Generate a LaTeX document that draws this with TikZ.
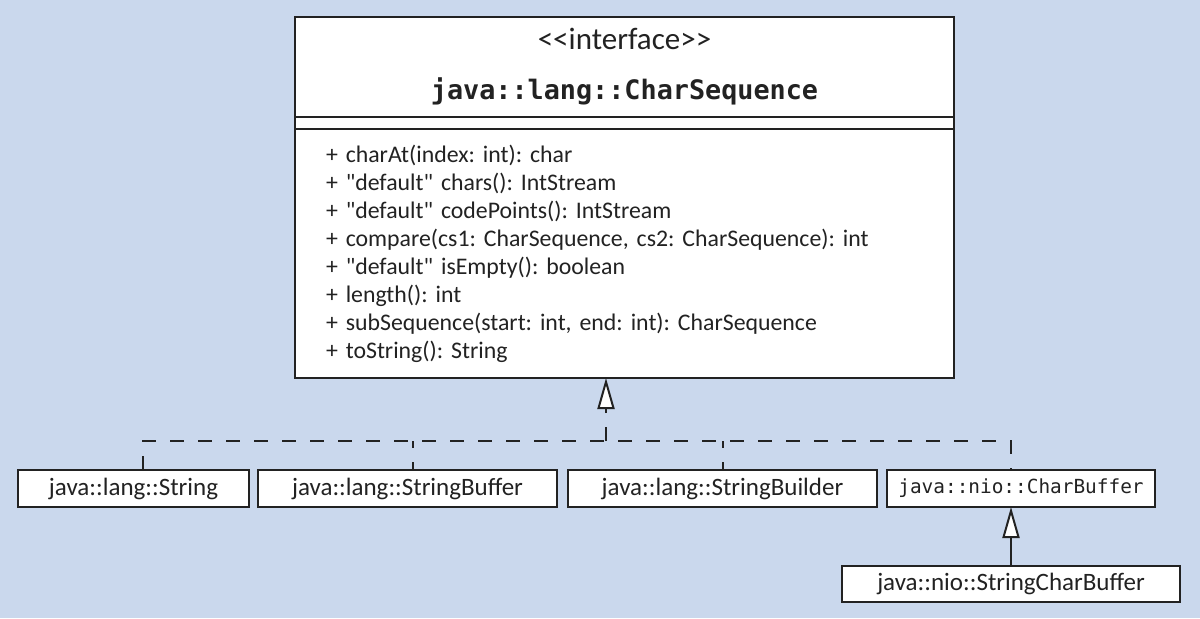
\documentclass[tikz,border=0pt]{standalone}
\usepackage{fontspec}
\setmainfont{Carlito}
\setmonofont{DejaVu Sans Mono}
\usepackage{tikz}
\usetikzlibrary{arrows.meta}
\definecolor{bgblue}{RGB}{202,216,237}
\definecolor{ink}{RGB}{34,34,34}
\newcommand{\qd}{\textquotedbl}
\frenchspacing

\begin{document}
\begin{tikzpicture}[x=0.5pt,y=-0.5pt,
  umlbox/.style={draw=ink,fill=white,line width=1pt,inner sep=0pt,outer sep=0pt,text=ink},
  classbox/.style={umlbox,minimum height=18.5pt,font=\fontsize{12.5}{15}\selectfont},
  dep/.style={draw=ink,line width=1pt,dash pattern=on 7pt off 7pt},
  realize/.style={-{Triangle[length=15.5pt,width=8.5pt,fill=white]}},
  inherit/.style={draw=ink,line width=1pt,realize}]
  \fill[bgblue] (0,0) rectangle (1200,618);
  % interface
  \node[umlbox,minimum width=329.5pt,minimum height=50pt,align=center,
    font=\fontsize{15.5}{25}\selectfont] (cshead) at (624.5,67)
    {<{}<interface>{}>\\{\fontsize{13.4}{16}\selectfont\ttfamily\bfseries java::lang::CharSequence}};
  \node[umlbox,minimum width=329.5pt,minimum height=6pt] (csattr) at (624.5,123) {};
  \node[umlbox,minimum width=329.5pt,minimum height=124.5pt,inner xsep=15.5pt,
    text width=298.5pt,align=left,font=\fontsize{11.9}{14}\selectfont] (cs) at (624.5,253.5)
    {+ charAt(index: int): char\\
     + \qd default\qd{} chars(): IntStream\\
     + \qd default\qd{} codePoints(): IntStream\\
     + compare(cs1: CharSequence, cs2: CharSequence): int\\
     + \qd default\qd{} isEmpty(): boolean\\
     + length(): int\\
     + subSequence(start: int, end: int): CharSequence\\
     + toString(): String};
  % implementing classes
  \foreach \n/\x/\w/\t in {str/133.5/115.5/java::lang::String,
                           sbuf/407.5/149.5/java::lang::StringBuffer,
                           sbld/722.5/154.5/java::lang::StringBuilder} {
    \node[classbox,minimum width=\w pt] (\n) at (\x,488.5) {\t};
  }
  \node[classbox,minimum width=134pt,font=\fontsize{9.7}{12}\selectfont\ttfamily] (cbuf) at (1021,488.5) {java::nio::CharBuffer};
  \node[classbox,minimum width=169pt,minimum height=18pt] (scb) at (1011,584) {java::nio::StringCharBuffer};
  % realization
  \coordinate (bus) at (606,441);
  \draw[dep] ([xshift=4.75pt]str.north) |- (bus) -| ([xshift=-5pt]cbuf.north);
  \draw[dep,dash phase=3.5pt] ([xshift=2.75pt]sbuf.north |- bus) -- ([xshift=2.75pt]sbuf.north);
  \draw[dep,dash phase=3.5pt] (sbld.north |- bus) -- (sbld.north);
  \draw[dep,realize] (bus) -- (bus |- cs.south);
  % inheritance
  \draw[inherit] (scb.north) -- (scb.north |- cbuf.south);
\end{tikzpicture}
\end{document}
